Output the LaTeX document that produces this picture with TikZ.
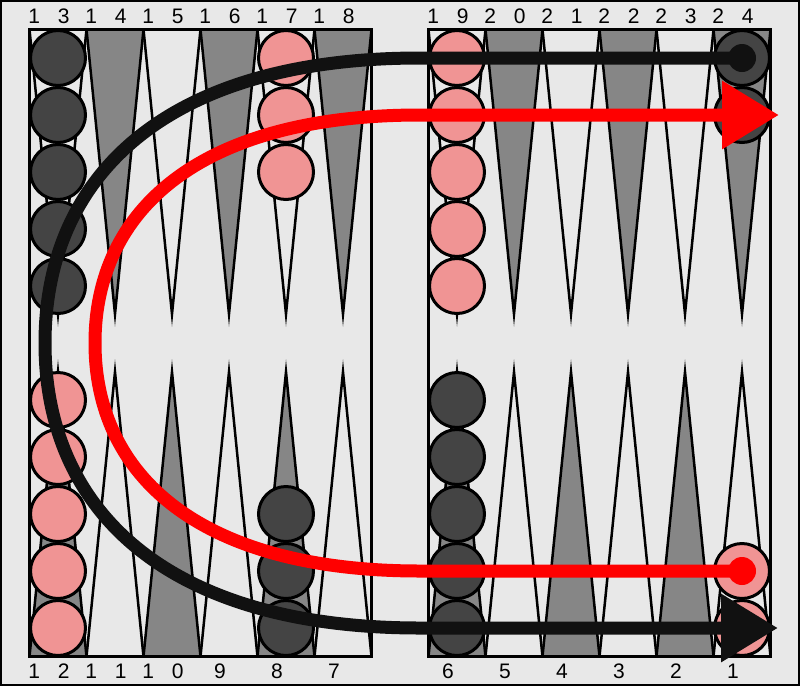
\documentclass[tikz,border=0pt]{standalone}
\usepackage{fontspec}
\setmainfont{Liberation Sans}
\usetikzlibrary{arrows.meta,positioning}

\definecolor{boardbg}{HTML}{E8E8E8}
\definecolor{pointgray}{HTML}{868686}
\definecolor{darkman}{HTML}{444444}
\definecolor{pinkman}{HTML}{F09494}
\definecolor{blackpath}{HTML}{111111}

\newcommand{\numgap}{\hspace{17.8pt}}

\tikzset{
    darkchk/.style={
        circle,
        draw=black, line width=3pt,
        fill=darkman,
        minimum size=55pt,
        inner sep=0pt
    },
    pinkchk/.style={darkchk, fill=pinkman},
    pointdark/.style={draw=black, line width=2.5pt, fill=pointgray, miter limit=25},
    pointlight/.style={pointdark, fill=boardbg},
    boardbox/.style={draw=black, line width=3pt},
    numlabel/.style={anchor=base, inner sep=0pt, font=\fontsize{21}{21}\selectfont},
    runner/.style={line width=13pt, -{Triangle[length=57pt,width=65pt]}}
}

\begin{document}
\begin{tikzpicture}[x=1pt, y=-1pt]
    \useasboundingbox (0,0) rectangle (800,686);
    \fill[boardbg] (0,0) rectangle (800,686);
    \draw[line width=2pt] (1,1) rectangle (799,685);
    \foreach \b in {29.5,428.5} {
        \foreach \i in {0,2,4} {
            \draw[pointlight] ({\b+57*\i},29.5) -- ++(57,0) -- ++(-28.5,284.5) -- cycle;
            \draw[pointdark] ({\b+57*\i},656.5) -- ++(57,0) -- ++(-28.5,-284.5) -- cycle;
        }
        \foreach \i in {1,3,5} {
            \draw[pointdark] ({\b+57*\i},29.5) -- ++(57,0) -- ++(-28.5,284.5) -- cycle;
            \draw[pointlight] ({\b+57*\i},656.5) -- ++(57,0) -- ++(-28.5,-284.5) -- cycle;
        }
    }
    \draw[boardbox] (29.5,29.5) rectangle (371.5,656.5);
    \draw[boardbox] (428.5,29.5) rectangle (770.5,656.5);
    \foreach \a/\c/\x in {1/3/58, 1/4/115, 1/5/172, 1/6/229, 1/7/286, 1/8/343,
                          1/9/457, 2/0/514, 2/1/571, 2/2/628, 2/3/685, 2/4/742}
        \node[numlabel] (lbl\a\c) at ({\x-9},23.5) {\a\numgap\c};
    \foreach \a/\c/\x in {1/2/58, 1/1/115, 1/0/172}
        \node[numlabel] (lbl\a\c) at ({\x-9},678) {\a\numgap\c};
    \foreach \a/\x in {9/229, 8/286, 7/343, 6/457, 5/514, 4/571, 3/628, 2/685, 1/742}
        \node[numlabel] (lbl\a) at ({\x-9},678) {\a};
    \foreach \p/\x/\n/\s in {13/58/5/darkchk, 17/286/3/pinkchk, 19/457/5/pinkchk, 24/742/2/darkchk}
        \foreach \k in {1,...,\n}
            \node[\s] (c\p-\k) at (\x,{1+57*\k}) {};
    \foreach \p/\x/\n/\s in {12/58/5/pinkchk, 8/286/3/darkchk, 6/457/5/darkchk, 1/742/2/pinkchk}
        \foreach \k in {1,...,\n}
            \node[\s] (c\p-\k) at (\x,{685-57*\k}) {};
    \coordinate (blackend) at (778,628);
    \coordinate (redend) at (779,115);
    \draw[runner, blackpath] (c24-1.center) -- (420,58)
        .. controls (165,58) and (45,177) .. (45,343)
        .. controls (45,509) and (165,628) .. (420,628) -- (blackend);
    \fill[blackpath] (c24-1) circle[radius=14pt];
    \draw[runner, red] (c1-2.center) -- (420,571)
        .. controls (200,571) and (95,476) .. (95,343)
        .. controls (95,210) and (200,115) .. (420,115) -- (redend);
    \fill[red] (c1-2) circle[radius=14pt];
\end{tikzpicture}
\end{document}
